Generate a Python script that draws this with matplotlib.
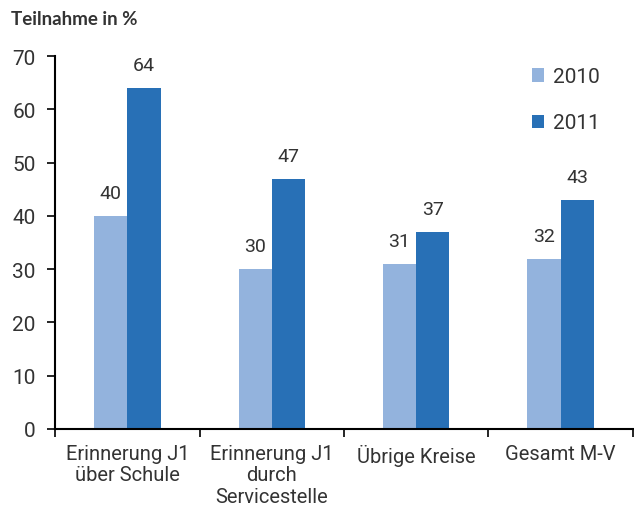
import matplotlib
matplotlib.use("Agg")
import matplotlib.pyplot as plt
import numpy as np

plt.rcParams['font.family'] = ['Roboto', 'DejaVu Sans']

categories = ["Erinnerung J1\nüber Schule", "Erinnerung J1\ndurch\nServicestelle",
              "Übrige Kreise", "Gesamt M-V"]
v2010 = [40, 30, 31, 32]
v2011 = [64, 47, 37, 43]
years = ["2010", "2011"]
yticks = [0, 10, 20, 30, 40, 50, 60, 70]

c_light = "#93B3DD"
c_dark = "#2870B6"
txt = "#333333"

fig = plt.figure(figsize=(6.34, 5.10), dpi=100)
ax = fig.add_axes([0.087, 0.157, 0.911, 0.731])

x = np.arange(len(categories))
w = 0.23
b1 = ax.bar(x - w/2, v2010, w, color=c_light, label=years[0])
b2 = ax.bar(x + w/2, v2011, w, color=c_dark, label=years[1])

for bars, vals in ((b1, v2010), (b2, v2011)):
    for r, v in zip(bars, vals):
        ax.text(r.get_x() + r.get_width()/2, v + 4.3, str(v), ha='center', va='center',
                fontsize=14, color=txt)

ax.set_xlim(-0.5, len(categories) - 0.5)
ax.set_ylim(0, 70)
ax.set_yticks(yticks)
ax.set_xticks(np.arange(len(categories) + 1) - 0.5)
ax.set_xticklabels([])
ax.set_xticks(x, minor=True)
ax.set_xticklabels(categories, minor=True, fontsize=14.5, color=txt, va='top', linespacing=1.15)
ax.tick_params(axis='x', which='minor', length=0, pad=11)
ax.tick_params(axis='x', which='major', length=6, width=1.2, direction='out')
ax.tick_params(axis='y', length=6, width=1.2, labelsize=15, labelcolor=txt, pad=8)

for s in ('top', 'right'):
    ax.spines[s].set_visible(False)
ax.spines['left'].set_linewidth(1.5)
ax.spines['bottom'].set_linewidth(1.5)

ax.legend(loc='upper right', bbox_to_anchor=(0.975, 1.02), frameon=False, fontsize=15,
          handlelength=0.6, handleheight=0.6, handletextpad=0.4, labelspacing=1.3,
          labelcolor=txt)

fig.text(0.018, 0.962, "Teilnahme in %", fontsize=13.5, fontweight='bold', color=txt,
         family=['Lato', 'DejaVu Sans'], va='center')

fig.savefig("out.png", dpi=100)
